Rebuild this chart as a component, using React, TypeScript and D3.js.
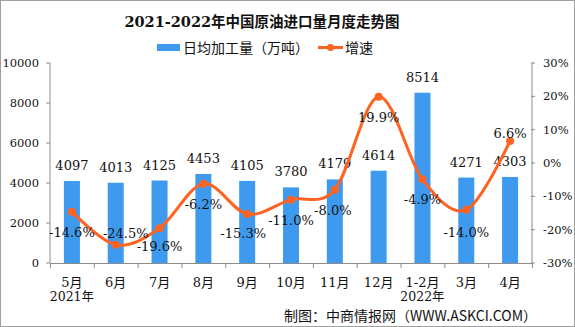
import React from "react";
import * as d3 from "d3";

const categories = ["5月", "6月", "7月", "8月", "9月", "10月", "11月", "12月", "1-2月", "3月", "4月"];
const volume = [4097, 4013, 4125, 4453, 4105, 3780, 4179, 4614, 8514, 4271, 4303];
const growth = [-14.6, -24.5, -19.6, -6.2, -15.3, -11.0, -8.0, 19.9, -4.9, -14.0, 6.6];
const leftTicks = [0, 2000, 4000, 6000, 8000, 10000];
const rightTicks = [-30, -20, -10, 0, 10, 20, 30];
const yearLabels = [
  { index: 0, text: "2021年" },
  { index: 8, text: "2022年" },
];
// label placement relative to the point (style, not data)
const growthLabelOffset: [number, number][] = [
  [0, 25], [10, -7], [0, 23], [0, 25], [-4, 24], [0, 25], [-2, 25], [0, 25], [0, 25], [0, 27], [0, -3],
];

const W = 575;
const H = 327;
const M = { left: 50, right: 532, top: 63, bottom: 263 };
const SERIF = "'DejaVu Serif', 'Liberation Serif', 'Noto Sans CJK SC', serif";
const CJK = "'Noto Sans CJK SC', sans-serif";
const AXIS = "#8c8c8c";
const BAR = "#3d9aee";
const LINE = "#ff6322";

export default function App() {
  const x = d3.scaleBand<string>().domain(categories).range([M.left, M.right]).paddingInner(0).paddingOuter(0);
  const yL = d3.scaleLinear().domain([0, 10000]).range([M.bottom, M.top]);
  const yR = d3.scaleLinear().domain([-30, 30]).range([M.bottom, M.top]);
  const bw = 16;
  const cx = (i: number) => (x(categories[i]) as number) + x.bandwidth() / 2;
  const pts: [number, number][] = growth.map((g, i) => [cx(i), yR(g)]);
  const line = d3.line().curve(d3.curveCardinal.tension(0))(pts) || "";

  return (
    <svg width={W} height={H} style={{ position: "absolute", left: 0, top: 0, background: "#fff" }}>
      <rect x={0.5} y={0.5} width={W - 1} height={H - 1} fill="#fff" stroke="#a0a0a0" />
      <text x={262} y={27} textAnchor="middle" fontFamily={SERIF} fontWeight="bold" fontSize={14.5} fill="#111">
        2021-2022年中国原油进口量月度走势图
      </text>
      {/* legend */}
      <rect x={157} y={44} width={23} height={7} fill={BAR} />
      <text x={183} y={52.5} fontFamily={CJK} fontSize={14} fill="#111">日均加工量（万吨）</text>
      <line x1={318} x2={343} y1={47.5} y2={47.5} stroke={LINE} strokeWidth={3} />
      <circle cx={330.5} cy={47.5} r={3.5} fill={LINE} />
      <text x={345} y={52.5} fontFamily={CJK} fontSize={14} fill="#111">增速</text>

      {/* left axis */}
      <line x1={M.left} x2={M.left} y1={M.top} y2={M.bottom} stroke={AXIS} />
      {leftTicks.map((t) => (
        <g key={"l" + t}>
          <line x1={M.left - 4} x2={M.left} y1={yL(t)} y2={yL(t)} stroke={AXIS} />
          <text x={M.left - 11} y={yL(t) + 4} textAnchor="end" fontFamily={SERIF} fontSize={11.5} fill="#111">{t}</text>
        </g>
      ))}
      {/* right axis */}
      <line x1={M.right} x2={M.right} y1={M.top} y2={M.bottom} stroke={AXIS} />
      {rightTicks.map((t) => (
        <g key={"r" + t}>
          <line x1={M.right - 1} x2={M.right + 3} y1={yR(t)} y2={yR(t)} stroke={AXIS} />
          <text x={543} y={yR(t) + 4} textAnchor="start" fontFamily={SERIF} fontSize={11.5} fill="#111">{t + "%"}</text>
        </g>
      ))}
      {/* x axis */}
      <line x1={M.left} x2={M.right} y1={M.bottom + 0.5} y2={M.bottom + 0.5} stroke={AXIS} />
      {categories.map((c, i) => (
        <line key={"xt" + i} x1={(x(c) as number) + 0.5} x2={(x(c) as number) + 0.5} y1={M.bottom} y2={M.bottom + 5} stroke={AXIS} />
      ))}
      <line x1={M.right + 0.5} x2={M.right + 0.5} y1={M.bottom} y2={M.bottom + 5} stroke={AXIS} />
      {categories.map((c, i) => (
        <text key={"xl" + i} x={cx(i)} y={287} textAnchor="middle" fontFamily={SERIF} fontSize={13} fill="#111">{c}</text>
      ))}
      {yearLabels.map((y) => (
        <text key={y.text} x={cx(y.index)} y={301} textAnchor="middle" fontFamily={SERIF} fontSize={12.5} fill="#111">{y.text}</text>
      ))}

      {/* bars */}
      {volume.map((v, i) => (
        <rect key={"b" + i} x={cx(i) - bw / 2} y={yL(v)} width={bw} height={yL(0) - yL(v)} fill={BAR} />
      ))}
      {volume.map((v, i) => (
        <text key={"bl" + i} x={cx(i)} y={yL(v) - 11} textAnchor="middle" fontFamily={SERIF} fontSize={13} fill="#111">{v}</text>
      ))}

      {/* line */}
      <path d={line} fill="none" stroke={LINE} strokeWidth={3} />
      {pts.map((p, i) => (
        <circle key={"p" + i} cx={p[0]} cy={p[1]} r={4} fill={LINE} />
      ))}
      {growth.map((g, i) => (
        <text key={"gl" + i} x={pts[i][0] + growthLabelOffset[i][0]} y={pts[i][1] + growthLabelOffset[i][1]} textAnchor="middle" fontFamily={SERIF} fontSize={13} fill="#111">
          {g.toFixed(1) + "%"}
        </text>
      ))}

      <text x={537} y={321} textAnchor="end" fontFamily={CJK} fontSize={14} fill="#111">
        制图：中商情报网（WWW.ASKCI.COM）
      </text>
    </svg>
  );
}
